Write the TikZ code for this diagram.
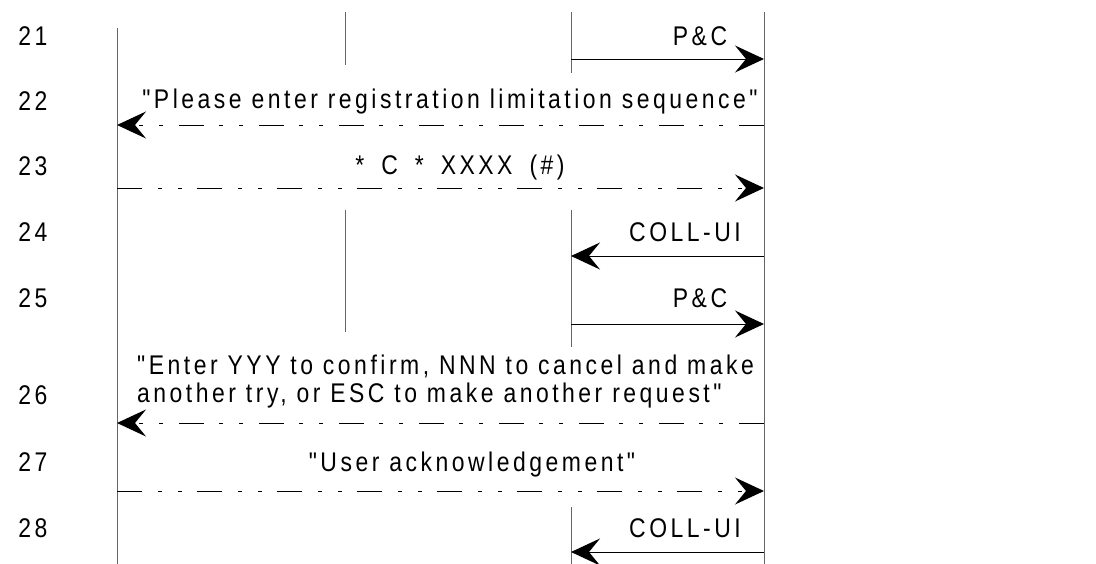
\documentclass[tikz,border=0pt]{standalone}
\usepackage{fontspec}
\newfontfamily\narrowsans[FakeStretch=0.85, LetterSpace=13]{Liberation Sans}
\usetikzlibrary{arrows.meta, positioning}
\tikzset{
  seq_font/.style = {font=\narrowsans\fontsize{27}{28}\selectfont},
  row_num/.style = {seq_font, anchor=base, inner sep=0},
  msg/.style = {seq_font, anchor=base, inner sep=0},
  msg_block/.style = {seq_font, align=left, anchor=north west, inner sep=0}
}
\tikzset{
  lifeline/.style = {draw=black!60, line width=0.9},
  signal/.style = {-{Stealth[length=29, width=27, inset=11, line width=1.2]}, line width=0.9},
  ui_signal/.style = {signal, dash pattern=on 25 off 16 on 4 off 16 on 4 off 15}
}

\begin{document}
\begin{tikzpicture}[x=1pt, y=-1pt]
        \useasboundingbox (0,0) rectangle (1096,564);

        % Lifelines
        \coordinate (ll_a) at (117,28);
        \coordinate (ll_b) at (345,12);
        \coordinate (ll_c) at (571,12);
        \coordinate (ll_d) at (764,12);
        \coordinate (bottom) at (0,564);

        % Row levels of the signals
        \coordinate (y_21) at (0,59);
        \coordinate (y_22) at (0,125);
        \coordinate (y_23) at (0,188);
        \coordinate (y_24) at (0,256);
        \coordinate (y_25) at (0,324);
        \coordinate (y_26) at (0,423);
        \coordinate (y_27) at (0,491);
        \coordinate (y_28) at (0,552);

        % Row numbers
        \node[row_num] at (33,46) (r_21) {21};
        \node[row_num] at (33,111) (r_22) {22};
        \node[row_num] at (33,176) (r_23) {23};
        \node[row_num] at (33,242) (r_24) {24};
        \node[row_num] at (33,308) (r_25) {25};
        \node[row_num] at (33,404) (r_26) {26};
        \node[row_num] at (33,471) (r_27) {27};
        \node[row_num] at (33,537) (r_28) {28};

        % Signal texts
        \node[msg] at (700,46) (t_21) {P\&C};
        \node[msg] at (450,109) (t_22) {"Please enter registration limitation sequence"};
        \node[msg] at (460,175) (t_23) {*\hspace{17pt}C\hspace{17pt}*\hspace{17pt}XXXX\hspace{17pt}(\#)};
        \node[msg] at (685,242) (t_24) {COLL-UI};
        \node[msg] at (700,308) (t_25) {P\&C};
        \node[msg_block] at (137,355) (t_26) {
            "Enter YYY to confirm, NNN to cancel and make \\
            another try, or ESC to make another request"
            };
        \node[msg] at (472,471) (t_27) {"User acknowledgement"};
        \node[msg] at (685,537) (t_28) {COLL-UI};

        % Lines and arrows
        \draw[lifeline] (ll_a)--(ll_a |- bottom);
        \draw[lifeline] (ll_d)--(ll_d |- bottom);
        \draw[lifeline] (ll_b)--(ll_b |- 0,65);
        \draw[lifeline] (ll_b |- 0,210)--(ll_b |- 0,332);
        \draw[lifeline] (ll_c)--(ll_c |- 0,73);
        \draw[lifeline] (ll_c |- 0,210)--(ll_c |- 0,347);
        \draw[lifeline] (ll_c |- 0,507)--(ll_c |- bottom);

        \draw[signal] (ll_c |- y_21)--(ll_d |- y_21);
        \draw[ui_signal] (ll_d |- y_22)--(ll_a |- y_22);
        \draw[ui_signal] (ll_a |- y_23)--(ll_d |- y_23);
        \draw[signal] (ll_d |- y_24)--(ll_c |- y_24);
        \draw[signal] (ll_c |- y_25)--(ll_d |- y_25);
        \draw[ui_signal] (ll_d |- y_26)--(ll_a |- y_26);
        \draw[ui_signal] (ll_a |- y_27)--(ll_d |- y_27);
        \draw[signal] (ll_d |- y_28)--(ll_c |- y_28);
    \end{tikzpicture}
\end{document}
